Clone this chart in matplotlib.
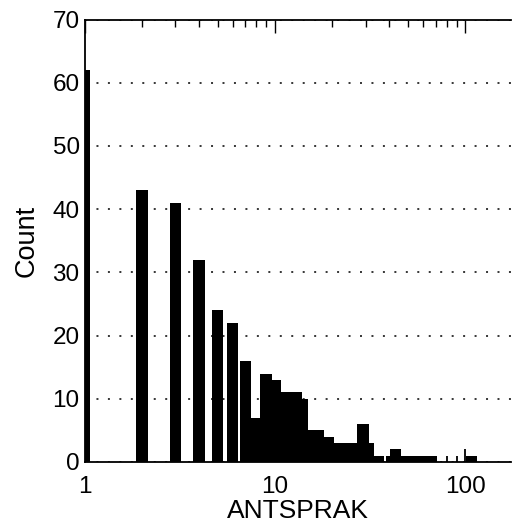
import numpy as np
import matplotlib
matplotlib.use("Agg")
import matplotlib.pyplot as plt
from matplotlib.ticker import FixedLocator, FixedFormatter, LogLocator, NullFormatter

# ---- data ----
bar_values = [1, 2, 3, 4, 5, 6, 7, 8, 9, 10, 11, 12, 13, 14, 15, 16, 17, 18, 19, 20,
              21, 22, 23, 24, 25, 26, 27, 28, 29, 30, 31, 33, 35, 41, 43, 47, 53, 60, 66, 108]
bar_counts = [62, 43, 41, 32, 24, 22, 16, 7, 14, 13, 11, 11, 11, 10, 5, 5, 5, 4, 4, 3,
              3, 3, 3, 3, 3, 3, 3, 3, 6, 3, 3, 1, 1, 1, 2, 1, 1, 1, 1, 1]
spike_values = [80, 90, 100]
spike_counts = [1, 1, 2]
x_ticks = [1, 10, 100]
x_ticklabels = ["1", "10", "100"]
y_ticks = [0, 10, 20, 30, 40, 50, 60, 70]

plt.rcParams['font.family'] = ['Liberation Sans', 'DejaVu Sans']

fig = plt.figure(figsize=(5.12, 5.29), dpi=100)
ax = fig.add_axes([84.5 / 512, (529 - 462) / 529, (511 - 84.5) / 512, (462 - 19.5) / 529])

logw = 0.06  # bar width in decades
v = np.array(bar_values, dtype=float)
left = v * 10 ** (-logw / 2)
right = v * 10 ** (logw / 2)
ax.set_xscale('log')
ax.bar(left, bar_counts, width=right - left, align='edge', color='black',
       linewidth=0, zorder=2)
ax.vlines(spike_values, 0, spike_counts, color='black', linewidth=1.3, zorder=2)

ax.set_xlim(1, 174)
ax.set_ylim(0, 70)

ax.xaxis.set_major_locator(FixedLocator(x_ticks))
ax.xaxis.set_major_formatter(FixedFormatter(x_ticklabels))
ax.xaxis.set_minor_locator(LogLocator(base=10, subs=np.arange(2, 10)))
ax.xaxis.set_minor_formatter(NullFormatter())
ax.set_yticks(y_ticks)

ax.yaxis.grid(True, linestyle=(0, (1.3, 6.2)), color='black', linewidth=1.1, zorder=1)
ax.set_axisbelow(True)

ax.tick_params(axis='x', which='both', top=True, bottom=False, labeltop=False,
               labelbottom=True, direction='in', labelsize=17.5, pad=10)
ax.tick_params(axis='x', which='major', length=9.5, width=1.0)
ax.tick_params(axis='x', which='minor', length=5, width=1.0)
ax.tick_params(axis='y', which='both', length=0, labelsize=17.5, pad=3.5)

for s in ['left', 'top', 'bottom']:
    ax.spines[s].set_linewidth(1.3)
ax.spines['right'].set_visible(False)

ax.set_xlabel('ANTSPRAK', fontsize=19, labelpad=1)
ax.set_ylabel('Count', fontsize=19.5, labelpad=9)

fig.savefig('out.png', dpi=100)
